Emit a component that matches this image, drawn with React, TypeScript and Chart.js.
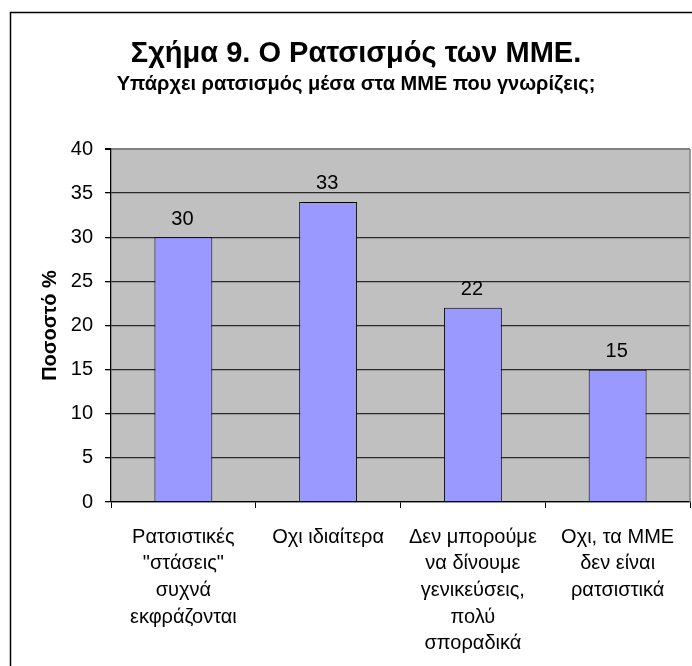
import React, { useEffect, useRef } from "react";
import { Chart, registerables } from "chart.js";

Chart.register(...registerables);

const categories: string[][] = [
  ["Ρατσιστικές", "\"στάσεις\"", "συχνά", "εκφράζονται"],
  ["Οχι ιδιαίτερα"],
  ["Δεν μπορούμε", "να δίνουμε", "γενικεύσεις,", "πολύ", "σποραδικά"],
  ["Οχι, τα ΜΜΕ", "δεν είναι", "ρατσιστικά"],
];
const values: number[] = [30, 34, 22, 15];
const valueLabels: string[] = ["30", "33", "22", "15"];
const yMin = 0;
const yMax = 40;
const yStep = 5;
const titleText = "Σχήμα 9. Ο Ρατσισμός των ΜΜΕ.";
const subtitleText = "Υπάρχει ρατσισμός μέσα στα ΜΜΕ που γνωρίζεις;";
const yAxisTitle = "Ποσοστό %";

const FONT = "'Liberation Sans', Arial, sans-serif";
const CANVAS_W = 712;
const CANVAS_H = 666;
const PAD_SIDE = 22;

const plotBg = {
  id: "plotBg",
  beforeDraw(chart: any) {
    const { ctx, chartArea } = chart;
    ctx.save();
    ctx.fillStyle = "#C0C0C0";
    ctx.fillRect(chartArea.left, chartArea.top, chartArea.right - chartArea.left, chartArea.bottom - chartArea.top);
    ctx.restore();
  },
  afterDraw(chart: any) {
    const { ctx, chartArea } = chart;
    ctx.save();
    ctx.strokeStyle = "#808080";
    ctx.lineWidth = 1.5;
    ctx.beginPath();
    ctx.moveTo(chartArea.right, chartArea.top);
    ctx.lineTo(chartArea.right, chartArea.bottom);
    ctx.stroke();
    // outer chart frame: only the left and top edges fall inside the picture
    ctx.strokeStyle = "#000";
    ctx.lineWidth = 1.5;
    ctx.beginPath();
    ctx.moveTo(10.5, CANVAS_H + 5);
    ctx.lineTo(10.5, 12.5);
    ctx.lineTo(CANVAS_W + 5, 12.5);
    ctx.stroke();
    ctx.restore();
  },
};

const barValueLabels = {
  id: "barValueLabels",
  afterDatasetsDraw(chart: any) {
    const { ctx } = chart;
    const meta = chart.getDatasetMeta(0);
    ctx.save();
    ctx.font = `20px ${FONT}`;
    ctx.fillStyle = "#000";
    ctx.textAlign = "center";
    ctx.textBaseline = "alphabetic";
    meta.data.forEach((bar: any, i: number) => {
      ctx.fillText(valueLabels[i], bar.x - 1, bar.y - 12.5);
    });
    ctx.restore();
  },
};

export default function App() {
  const ref = useRef<HTMLCanvasElement | null>(null);

  useEffect(() => {
    if (!ref.current) return;
    const chart = new Chart(ref.current, {
      type: "bar",
      data: {
        labels: categories,
        datasets: [
          {
            data: values,
            backgroundColor: "#9999FF",
            borderColor: "#000",
            borderWidth: 1,
            categoryPercentage: 1,
            barPercentage: 0.4,
          },
        ],
      },
      options: {
        responsive: false,
        animation: false,
        devicePixelRatio: 1,
        layout: { padding: { left: PAD_SIDE, right: PAD_SIDE, top: 0, bottom: 0 } },
        plugins: {
          legend: { display: false },
          tooltip: { enabled: false },
          title: {
            display: true,
            text: titleText,
            color: "#000",
            font: { family: FONT, size: 29, weight: "bold", lineHeight: 1.2 },
            padding: { top: 37, bottom: 0 },
          },
          subtitle: {
            display: true,
            text: subtitleText,
            color: "#000",
            font: { family: FONT, size: 20, weight: "bold", lineHeight: 1.2 },
            padding: { top: 1, bottom: 52.2 },
          },
        },
        scales: {
          x: {
            offset: true,
            grid: {
              display: true,
              drawOnChartArea: false,
              drawTicks: true,
              tickLength: 6,
              color: "#000",
              offset: true,
            },
            border: { display: true, color: "#000", width: 1.3 },
            ticks: {
              color: "#000",
              font: { family: FONT, size: 20, lineHeight: 1.33 },
              padding: 16,
              maxRotation: 0,
              minRotation: 0,
              autoSkip: false,
            },
            afterFit(axis: any) {
              axis.height = CANVAS_H - 502;
            },
          },
          y: {
            min: yMin,
            max: yMax,
            grid: {
              color: (c: any) => (c.tick && c.tick.value === yMax ? "#808080" : "#2a2a2a"),
              lineWidth: (c: any) => (c.tick && c.tick.value === yMax ? 2 : 1.3),
              tickColor: "#000",
              tickLength: 6,
              drawTicks: true,
            },
            border: { display: true, color: "#000", width: 1.3 },
            ticks: {
              stepSize: yStep,
              color: "#000",
              font: { family: FONT, size: 20 },
              padding: 12,
            },
            title: {
              display: true,
              text: yAxisTitle,
              color: "#000",
              font: { family: FONT, size: 20, weight: "bold", lineHeight: 1.2 },
              padding: { top: 16, bottom: 0 },
            },
            afterFit(axis: any) {
              axis.width = 111 - PAD_SIDE;
            },
          },
        },
      },
      plugins: [plotBg, barValueLabels],
    } as any);
    return () => chart.destroy();
  }, []);

  return (
    <div
      style={{
        position: "fixed",
        left: 0,
        top: 0,
        width: 692,
        height: 666,
        overflow: "hidden",
        background: "#fff",
      }}
    >
      <canvas ref={ref} width={CANVAS_W} height={CANVAS_H} style={{ width: CANVAS_W, height: CANVAS_H, display: "block" }} />
    </div>
  );
}
